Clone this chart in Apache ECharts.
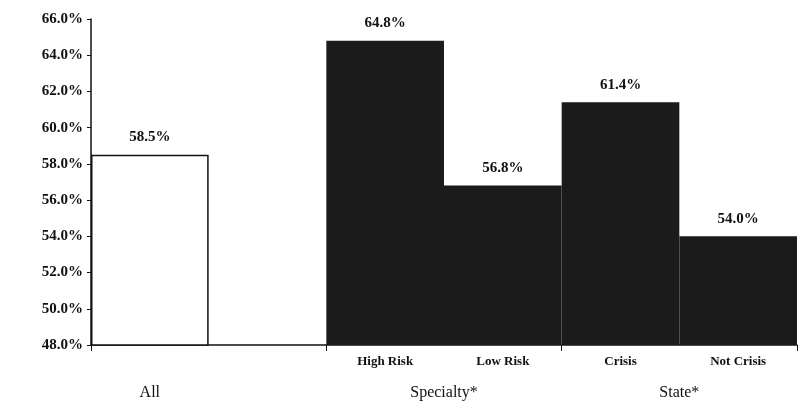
<!DOCTYPE html>
<html>
<head>
<meta charset="utf-8">
<script src="https://cdn.jsdelivr.net/npm/echarts@6/dist/echarts.min.js"></script>
<style>html,body{margin:0;padding:0;background:#fff}#c{width:800px;height:407px}</style>
</head>
<body>
<div id="c"></div>
<script>
const categories = ['All', '', 'High Risk', 'Low Risk', 'Crisis', 'Not Crisis'];
const subLabels = ['', '', 'High Risk', 'Low Risk', 'Crisis', 'Not Crisis'];
const values = [58.5, null, 64.8, 56.8, 61.4, 54.0];
const groupLabels = ['', 'All', '', '', '', '', 'Specialty*', '', '', '', 'State*', '', ''];
const yTicks = { min: 48, max: 66, interval: 2 };

const serif = 'Liberation Serif, Times New Roman, serif';
const chart = echarts.init(document.getElementById('c'));
chart.setOption({
  backgroundColor: '#ffffff',
  animation: false,
  grid: { left: 91, right: 0, top: 19, bottom: 62, containLabel: false },
  xAxis: [{
    type: 'category',
    data: categories,
    axisLine: { lineStyle: { color: '#111', width: 1.5 } },
    axisTick: { show: true, length: 6, inside: false, lineStyle: { color: '#111' },
      interval: function (i) { return i === 0 || i === 2 || i === 4; } },
    axisLabel: { interval: 0, margin: 10, fontFamily: serif, fontSize: 13, fontWeight: 'bold', color: '#111',
      formatter: function (v, i) { return subLabels[i]; } }
  }, {
    type: 'category',
    data: groupLabels,
    position: 'bottom',
    boundaryGap: false,
    axisLine: { show: false },
    axisTick: { show: false },
    axisLabel: { interval: 0, margin: 40, fontFamily: serif, fontSize: 16, color: '#111' }
  }],
  yAxis: {
    type: 'value',
    min: yTicks.min, max: yTicks.max, interval: yTicks.interval,
    splitLine: { show: false },
    axisLine: { show: true, lineStyle: { color: '#111', width: 1.5 } },
    axisTick: { show: true, length: 4, lineStyle: { color: '#111' } },
    axisLabel: { margin: 8, fontFamily: serif, fontSize: 15, fontWeight: 'bold', color: '#111',
      formatter: function (v) { return v.toFixed(1) + '%'; } }
  },
  series: [{
    type: 'bar',
    xAxisIndex: 0,
    barWidth: '100%',
    data: values.map(function (v, i) {
      if (v === null) return '-';
      if (i === 0) return { value: v, itemStyle: { color: '#ffffff', borderColor: '#111', borderWidth: 1.5 } };
      return { value: v, itemStyle: { color: '#1b1b1b' } };
    }),
    label: { show: true, position: 'top', distance: 10, fontFamily: serif, fontSize: 15, fontWeight: 'bold', color: '#111',
      formatter: function (p) { return p.value.toFixed(1) + '%'; } }
  }]
});
</script>
</body>
</html>
